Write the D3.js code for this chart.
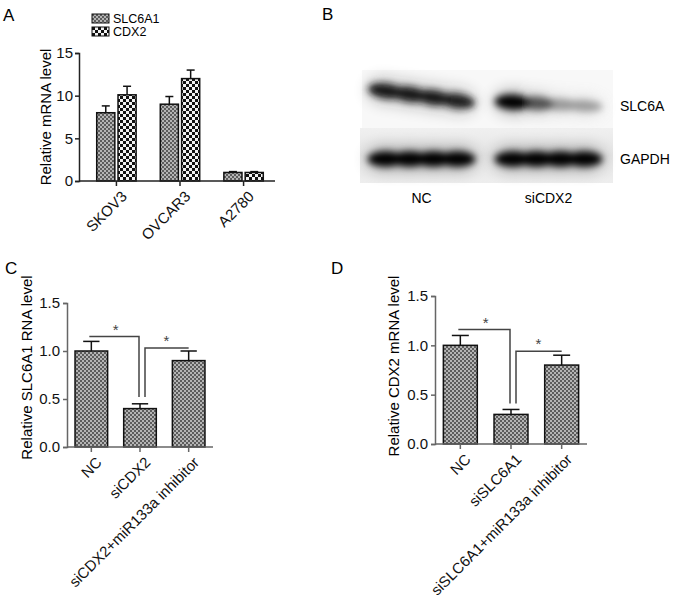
<!DOCTYPE html>
<html>
<head>
<meta charset="utf-8">
<script src="https://cdn.jsdelivr.net/npm/d3@7"></script>
<style>
    body { margin: 0; background: #fff; }
    svg { font-family: Arial, "Liberation Sans", sans-serif; }
</style>
</head>
<body>
<svg id="fig" width="677" height="598"></svg>
<script>
// ---- panel A: qPCR in cell lines
const cellLines = ["SKOV3", "OVCAR3", "A2780"];
const genesA = ["SLC6A1", "CDX2"];
const slc6a1Mean = [8.0, 9.0, 1.0];
const slc6a1Err = [0.8, 0.9, 0.1];
const cdx2Mean = [10.1, 12.0, 1.0];
const cdx2Err = [1.0, 1.0, 0.1];
const ticksA = [0, 5, 10, 15];

// ---- panel B: western blot, band density left -> right along each lane
const blotLanes = ["NC", "siCDX2"];
const blotProteins = ["SLC6A", "GAPDH"];
const slc6aDensity = [[0.95, 0.95, 0.92, 0.9], [1.0, 0.7, 0.42, 0.4]];
const gapdhDensity = [[1, 1, 1, 1], [1, 1, 1, 1]];

// ---- panel C
const groupsC = ["NC", "siCDX2", "siCDX2+miR133a inhibitor"];
const meanC = [1.0, 0.4, 0.9];
const errC = [0.1, 0.05, 0.1];
const sigC = [{ top: 1.15, low: 0.52 }, { top: 1.03, low: 0.52 }];

// ---- panel D
const groupsD = ["NC", "siSLC6A1", "siSLC6A1+miR133a inhibitor"];
const meanD = [1.0, 0.3, 0.8];
const errD = [0.1, 0.05, 0.1];
const sigD = [{ top: 1.16, low: 0.41 }, { top: 0.94, low: 0.41 }];

const ticksCD = [0, 0.5, 1.0, 1.5];

const svg = d3.select("#fig");
const defs = svg.append("defs");

// fine grey checker (SLC6A1 / C / D bars)
const fine = defs.append("pattern")
    .attr("id", "fine")
    .attr("width", 4).attr("height", 4)
    .attr("patternUnits", "userSpaceOnUse");
fine.append("rect").attr("width", 4).attr("height", 4).attr("fill", "#b4b4b4");
fine.append("rect").attr("width", 2).attr("height", 2).attr("fill", "#5c5c5c");
fine.append("rect").attr("x", 2).attr("y", 2).attr("width", 2).attr("height", 2).attr("fill", "#5c5c5c");

// coarse black/white checker (CDX2)
const coarse = defs.append("pattern")
    .attr("id", "coarse")
    .attr("width", 6).attr("height", 6)
    .attr("patternUnits", "userSpaceOnUse");
coarse.append("rect").attr("width", 6).attr("height", 6).attr("fill", "#f2f2f2");
coarse.append("rect").attr("width", 3).attr("height", 3).attr("fill", "#111");
coarse.append("rect").attr("x", 3).attr("y", 3).attr("width", 3).attr("height", 3).attr("fill", "#111");

defs.append("filter")
    .attr("id", "blur")
    .attr("x", "-30%").attr("y", "-100%").attr("width", "160%").attr("height", "300%")
    .append("feGaussianBlur").attr("stdDeviation", 3.8);
defs.append("filter")
    .attr("id", "halo")
    .attr("x", "-30%").attr("y", "-100%").attr("width", "160%").attr("height", "300%")
    .append("feGaussianBlur").attr("stdDeviation", 8);

const lowerBg = defs.append("linearGradient").attr("id", "lowerBg").attr("x1", 0).attr("x2", 0).attr("y1", 0).attr("y2", 1);
lowerBg.append("stop").attr("offset", "0%").attr("stop-color", "#f0f0f0");
lowerBg.append("stop").attr("offset", "50%").attr("stop-color", "#e4e4e4");
lowerBg.append("stop").attr("offset", "100%").attr("stop-color", "#eeeeee");

const panelLabel = (x, y, t) => svg.append("text")
    .attr("x", x).attr("y", y)
    .style("font-size", "17px")
    .text(t);

const yTitle = (x, y, t) => svg.append("text")
    .attr("transform", `translate(${x},${y}) rotate(-90)`)
    .attr("text-anchor", "middle")
    .attr("dy", "0.35em")
    .style("font-size", "15px")
    .text(t);

const styleAxis = (sel, color) => {
    sel.selectAll("path, line").attr("stroke", color).attr("stroke-width", 1.5);
    sel.selectAll("text").attr("fill", "#111").style("font-size", "15px").style("font-family", "Arial, 'Liberation Sans', sans-serif");
};

const errBar = (g, cx, yTop, yErr, capW) => {
    g.append("line").attr("x1", cx).attr("x2", cx).attr("y1", yTop).attr("y2", yErr)
        .attr("stroke", "#111").attr("stroke-width", 1.5);
    g.append("line").attr("x1", cx - capW / 2).attr("x2", cx + capW / 2).attr("y1", yErr).attr("y2", yErr)
        .attr("stroke", "#111").attr("stroke-width", 1.5);
};

const rotatedLabels = (g, x, cats, y0) => {
    g.selectAll(".xl")
        .data(cats)
        .enter()
        .append("text")
        .attr("class", "xl")
        .attr("text-anchor", "end")
        .attr("transform", d => `translate(${x(d) + x.bandwidth() / 2 + 4},${y0 + 9}) rotate(-45)`)
        .attr("dy", "0.7em")
        .style("font-size", "15px")
        .attr("fill", "#111")
        .text(d => d);
};

// =============== A ===============
{
    const g = svg.append("g");
    const y = d3.scaleLinear().domain([0, 15]).range([181, 53]);
    const x0 = d3.scaleBand().domain(cellLines).range([84, 276]).paddingInner(0.38).paddingOuter(0.2);
    const x1 = d3.scaleBand().domain(genesA).range([0, x0.bandwidth()]).paddingInner(0.15);
    const fills = { SLC6A1: "url(#fine)", CDX2: "url(#coarse)" };
    const rows = [];
    cellLines.forEach((c, i) => {
        rows.push({ c, gene: "SLC6A1", v: slc6a1Mean[i], e: slc6a1Err[i] });
        rows.push({ c, gene: "CDX2", v: cdx2Mean[i], e: cdx2Err[i] });
    });

    rows.forEach(d => {
        const bx = x0(d.c) + x1(d.gene);
        errBar(g, bx + x1.bandwidth() / 2, y(d.v), y(d.v + d.e), 8);
    });
    g.selectAll(".barA")
        .data(rows)
        .enter()
        .append("rect")
        .attr("class", "barA")
        .attr("x", d => x0(d.c) + x1(d.gene))
        .attr("y", d => y(d.v))
        .attr("width", x1.bandwidth())
        .attr("height", d => y(0) - y(d.v))
        .attr("fill", d => fills[d.gene])
        .attr("stroke", "#111")
        .attr("stroke-width", 1.5);

    const ya = g.append("g").attr("transform", "translate(79,0)")
        .call(d3.axisLeft(y).tickValues(ticksA).tickSize(4).tickPadding(2));
    styleAxis(ya, "#222");

    const xa = g.append("g").attr("transform", "translate(0,181)")
        .call(d3.axisBottom(x0).tickSize(5).tickFormat(""));
    xa.select(".domain").remove();
    styleAxis(xa, "#222");
    g.append("line").attr("x1", 79).attr("x2", 275).attr("y1", 181).attr("y2", 181)
        .attr("stroke", "#222").attr("stroke-width", 1.5);
    rotatedLabels(g, x0, cellLines, 181);

    yTitle(46, 117, "Relative mRNA level");

    // legend
    const lg = g.selectAll(".lg").data(genesA).enter().append("g")
        .attr("transform", (d, i) => `translate(92,${14 + i * 13})`);
    lg.append("rect").attr("width", 17).attr("height", 9)
        .attr("fill", d => fills[d]).attr("stroke", "#111").attr("stroke-width", 1);
    lg.append("text").attr("x", 21).attr("y", 4.5).attr("dy", "0.36em")
        .style("font-size", "12.5px").text(d => d);

    panelLabel(3, 21, "A");
}

// =============== B ===============
{
    const g = svg.append("g");
    const lane = d3.scaleBand().domain(blotLanes).range([358, 612]).paddingInner(0.12).paddingOuter(0.06);
    const row = d3.scaleBand().domain(blotProteins).range([70, 186]);
    const seg = d3.scaleBand().domain(d3.range(4)).range([0, lane.bandwidth() - 16]);
    const shade = d3.scaleLinear().domain([0, 1]).range(["#ffffff", "#050505"]);
    const densities = { SLC6A: slc6aDensity, GAPDH: gapdhDensity };
    const tilt = { SLC6A: [8, 3], GAPDH: [0, 0] };
    const rowShift = { SLC6A: [-3, 5], GAPDH: [2, 2] };

    g.append("rect").attr("x", 362).attr("y", row("SLC6A")).attr("width", 251).attr("height", row.bandwidth())
        .attr("fill", "#f8f8f8");
    g.append("rect").attr("x", 360).attr("y", row("GAPDH")).attr("width", 253).attr("height", row.bandwidth() - 3)
        .attr("fill", "url(#lowerBg)");

    blotProteins.forEach(p => {
        blotLanes.forEach((l, li) => {
            const cx = lane(l) + lane.bandwidth() / 2;
            const cy = row(p) + row.bandwidth() / 2 + rowShift[p][li];
            const pts = densities[p][li].map((v, k) => ({ k, v })).sort((a, b) => a.v - b.v);
            const band = g.append("g")
                .attr("transform", `rotate(${tilt[p][li]},${cx},${cy})`);
            const halo = band.append("g").attr("filter", "url(#halo)").attr("opacity", 0.3);
            const core = band.append("g").attr("filter", "url(#blur)");
            [halo, core].forEach((layer, j) => {
                layer.selectAll("ellipse").data(pts).enter().append("ellipse")
                    .attr("cx", d => lane(l) + 8 + seg(d.k) + seg.bandwidth() / 2)
                    .attr("cy", cy)
                    .attr("rx", seg.bandwidth() * 0.75)
                    .attr("ry", d => (j ? 7.5 : 12) * (0.55 + 0.45 * d.v))
                    .attr("fill", d => shade(d.v));
            });
        });
        g.append("text").attr("x", 620).attr("y", row(p) + row.bandwidth() / 2 + (p === "SLC6A" ? 7 : 2))
            .attr("dy", "0.36em").style("font-size", "14px").text(p);
    });

    g.selectAll(".lane").data(blotLanes).enter().append("text")
        .attr("x", d => lane(d) + lane.bandwidth() / 2)
        .attr("y", 203)
        .attr("text-anchor", "middle")
        .style("font-size", "14px")
        .text(d => d);

    panelLabel(322, 20, "B");
}

// =============== C / D ===============
const simplePanel = ({ cats, mean, err, sig, xRange, yRange, axisX, title, titleX, letterX }) => {
    const g = svg.append("g");
    const y = d3.scaleLinear().domain([0, 1.5]).range(yRange);
    const x = d3.scaleBand().domain(cats).range(xRange).paddingInner(0.33).paddingOuter(0.165);
    const rows = cats.map((c, i) => ({ c, v: mean[i], e: err[i] }));
    const mid = c => x(c) + x.bandwidth() / 2;

    rows.forEach(d => errBar(g, mid(d.c), y(d.v), y(d.v + d.e), x.bandwidth() * 0.5));
    g.selectAll(".bar")
        .data(rows)
        .enter()
        .append("rect")
        .attr("x", d => x(d.c))
        .attr("y", d => y(d.v))
        .attr("width", x.bandwidth())
        .attr("height", d => y(0) - y(d.v))
        .attr("fill", "url(#fine)")
        .attr("stroke", "#111")
        .attr("stroke-width", 1.5);

    const ya = g.append("g").attr("transform", `translate(${axisX},0)`)
        .call(d3.axisLeft(y).tickValues(ticksCD).tickFormat(d3.format(".1f")).tickSize(4).tickPadding(3));
    styleAxis(ya, "#666");
    const xa = g.append("g").attr("transform", `translate(0,${yRange[0]})`)
        .call(d3.axisBottom(x).tickSize(5).tickFormat(""));
    xa.select(".domain").remove();
    styleAxis(xa, "#666");
    g.append("line").attr("x1", axisX).attr("x2", xRange[1]).attr("y1", yRange[0]).attr("y2", yRange[0])
        .attr("stroke", "#666").attr("stroke-width", 1.5);
    rotatedLabels(g, x, cats, yRange[0]);

    // significance brackets
    const [a, b, c] = cats;
    const br = g.append("g").attr("fill", "none").attr("stroke", "#444").attr("stroke-width", 1.5);
    br.append("path").attr("d", `M${mid(a) - 2},${y(sig[0].top)}H${mid(b) - 1}V${y(sig[0].low)}`);
    br.append("path").attr("d", `M${mid(b) + 5},${y(sig[1].low)}V${y(sig[1].top)}H${mid(c)}`);
    const stars = [
        { x: (mid(a) + mid(b)) / 2, y: y(sig[0].top) },
        { x: (mid(b) + mid(c)) / 2 + 2, y: y(sig[1].top) }
    ];
    g.selectAll(".star").data(stars).enter().append("text")
        .attr("x", d => d.x).attr("y", d => d.y - 2)
        .attr("text-anchor", "middle")
        .attr("fill", "#444")
        .style("font-size", "15px")
        .text("*");

    yTitle(titleX, (yRange[0] + 280) / 2 + 4, title);
    panelLabel(letterX, 274, letterX < 100 ? "C" : "D");
};

simplePanel({
    cats: groupsC, mean: meanC, err: errC, sig: sigC,
    xRange: [67, 213], yRange: [447, 303], axisX: 67,
    title: "Relative SLC6A1 RNA level", titleX: 27, letterX: 5
});
simplePanel({
    cats: groupsD, mean: meanD, err: errD, sig: sigD,
    xRange: [435, 587], yRange: [444, 296], axisX: 435,
    title: "Relative CDX2 mRNA level", titleX: 394, letterX: 331
});
</script>
</body>
</html>
